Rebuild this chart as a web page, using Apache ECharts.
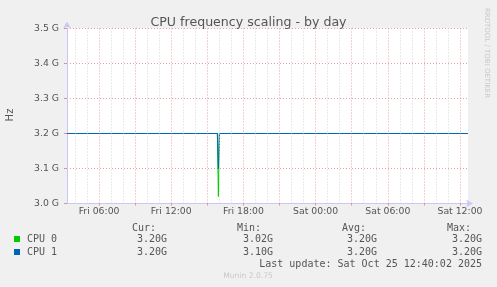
<!DOCTYPE html>
<html>
<head>
<meta charset="utf-8">
<script src="https://cdn.jsdelivr.net/npm/echarts@6/dist/echarts.min.js"></script>
<style>
html,body{margin:0;padding:0;background:#f0f0f0;}
#c{width:497px;height:287px;}
</style>
</head>
<body>
<div id="c"></div>
<script>
// Time in hours since Fri 00:00
var timeStart = 3 + 20 / 60;   // Fri 03:20
var timeEnd = 36 + 40 / 60;    // Sat 12:40
var xTickHours = [6, 12, 18, 24, 30, 36];
var xTickLabels = ['Fri 06:00', 'Fri 12:00', 'Fri 18:00', 'Sat 00:00', 'Sat 06:00', 'Sat 12:00'];
var yTicks = [3.0, 3.1, 3.2, 3.3, 3.4, 3.5];
var yTickLabels = ['3.0 G', '3.1 G', '3.2 G', '3.3 G', '3.4 G', '3.5 G'];

// Series values (GHz) at sample times (hours)
var cpu0Times = [timeStart, 15.833, 15.917, 16.0, timeEnd];
var cpu0Values = [3.20, 3.20, 3.02, 3.20, 3.20];
var cpu1Times = [timeStart, 15.833, 15.917, 16.0, timeEnd];
var cpu1Values = [3.20, 3.20, 3.10, 3.20, 3.20];

var seriesNames = ['CPU 0', 'CPU 1'];
var seriesColors = ['#00cc00', '#0066b3'];
var statCur = ['3.20G', '3.20G'];
var statMin = ['3.02G', '3.10G'];
var statAvg = ['3.20G', '3.20G'];
var statMax = ['3.20G', '3.20G'];
var lastUpdate = 'Last update: Sat Oct 25 12:40:02 2025';

function pairs(ts, vs) { return ts.map(function (t, i) { return [t, vs[i]]; }); }

var majorGrid = [], minorGrid = [];
for (var h = Math.ceil(timeStart); h <= Math.floor(timeEnd); h++) {
  if (h % 3 === 0) majorGrid.push({ xAxis: h }); else minorGrid.push({ xAxis: h });
}

var chart = echarts.init(document.getElementById('c'));
var mono = 'DejaVu Sans Mono';
var sans = 'DejaVu Sans';
var txtColor = '#555555';

var graphics = [];
function txt(x, y, s, align, opts) {
  var st = Object.assign({ text: s, x: x, y: y, align: align || 'left', verticalAlign: 'middle',
    font: '10px "' + mono + '"', fill: txtColor }, opts || {});
  graphics.push({ type: 'text', style: st, silent: true });
}
txt(132, 228, 'Cur:');
txt(237, 228, 'Min:');
txt(342, 228, 'Avg:');
txt(447, 228, 'Max:');
seriesNames.forEach(function (n, i) {
  var y = 239 + i * 13;
  graphics.push({ type: 'rect', shape: { x: 14, y: y - 3, width: 6, height: 6 }, style: { fill: seriesColors[i] }, silent: true });
  txt(27, y, n);
  txt(167, y, statCur[i], 'right');
  txt(273, y, statMin[i], 'right');
  txt(377, y, statAvg[i], 'right');
  txt(482, y, statMax[i], 'right');
});
txt(482, 264, lastUpdate, 'right');
txt(248, 276, 'Munin 2.0.75', 'center', { font: '7.6px "' + sans + '"', fill: '#c8c8c8' });
graphics.push({ type: 'text', x: 10, y: 115, rotation: Math.PI / 2, silent: true,
  style: { text: 'Hz', align: 'center', verticalAlign: 'middle', font: '10px "' + sans + '"', fill: txtColor } });
graphics.push({ type: 'text', x: 487, y: 53, rotation: -Math.PI / 2, silent: true,
  style: { text: 'RRDTOOL / TOBI OETIKER', align: 'center', verticalAlign: 'middle', font: '7px "' + sans + '"', fill: '#c8c8c8' } });

var option = {
  backgroundColor: '#f0f0f0',
  animation: false,
  title: {
    text: 'CPU frequency scaling - by day', left: 'center', top: 11,
    textStyle: { fontFamily: sans, fontSize: 12.6, fontWeight: 'normal', color: '#555555' }
  },
  grid: { left: 67, right: 29, top: 28.5, bottom: 83.5, show: true, backgroundColor: '#ffffff', borderWidth: 0 },
  xAxis: {
    type: 'value', min: timeStart, max: timeEnd,
    axisLine: { show: true, onZero: false, lineStyle: { color: '#c8c8f8', width: 1 },
      symbol: ['none', 'arrow'], symbolSize: [6, 7], symbolOffset: [0, 5] },
    axisTick: { show: true, customValues: xTickHours.concat([9, 15, 21, 27, 33]), length: 2, lineStyle: { color: '#e09090' } },
    axisLabel: {
      customValues: xTickHours, margin: 4,
      formatter: function (v) { var i = xTickHours.indexOf(Math.round(v)); return i >= 0 ? xTickLabels[i] : ''; },
      fontFamily: sans, fontSize: 9.3, color: txtColor
    },
    splitLine: { show: false }
  },
  yAxis: {
    type: 'value', min: 3.0, max: 3.5, interval: 0.1,
    axisLine: { show: true, lineStyle: { color: '#c8c8f8', width: 1 },
      symbol: ['none', 'arrow'], symbolSize: [6, 7], symbolOffset: [0, 7] },
    axisTick: { show: true, length: 3, lineStyle: { color: '#e09090' } },
    axisLabel: {
      margin: 8, fontFamily: sans, fontSize: 9.3, color: txtColor,
      formatter: function (v) { var i = yTicks.findIndex(function (t) { return Math.abs(t - v) < 1e-6; }); return i >= 0 ? yTickLabels[i] : ''; }
    },
    splitLine: { show: true, lineStyle: { color: '#e8a0a0', type: [1, 2], width: 1 } }
  },
  series: [
    {
      type: 'line', z: 1, data: [[timeStart, 3.0]], symbol: 'none', silent: true,
      lineStyle: { opacity: 0 },
      markLine: {
        silent: true, symbol: ['none', 'none'], animation: false, label: { show: false },
        lineStyle: { color: '#d4d4d4', type: [1, 2], width: 1 },
        data: minorGrid
      }
    },
    {
      type: 'line', z: 1, data: [[timeStart, 3.0]], symbol: 'none', silent: true,
      lineStyle: { opacity: 0 },
      markLine: {
        silent: true, symbol: ['none', 'none'], animation: false, label: { show: false },
        lineStyle: { color: '#e8a0a0', type: [1, 2], width: 1 },
        data: majorGrid
      }
    },
    {
      name: seriesNames[0], type: 'line', z: 3, data: pairs(cpu0Times, cpu0Values), symbol: 'none',
      lineStyle: { color: seriesColors[0], width: 1 }
    },
    {
      name: seriesNames[1], type: 'line', z: 4, data: pairs(cpu1Times, cpu1Values), symbol: 'none',
      lineStyle: { color: seriesColors[1], width: 1 }
    }
  ],
  graphic: graphics
};
chart.setOption(option);
</script>
</body>
</html>
